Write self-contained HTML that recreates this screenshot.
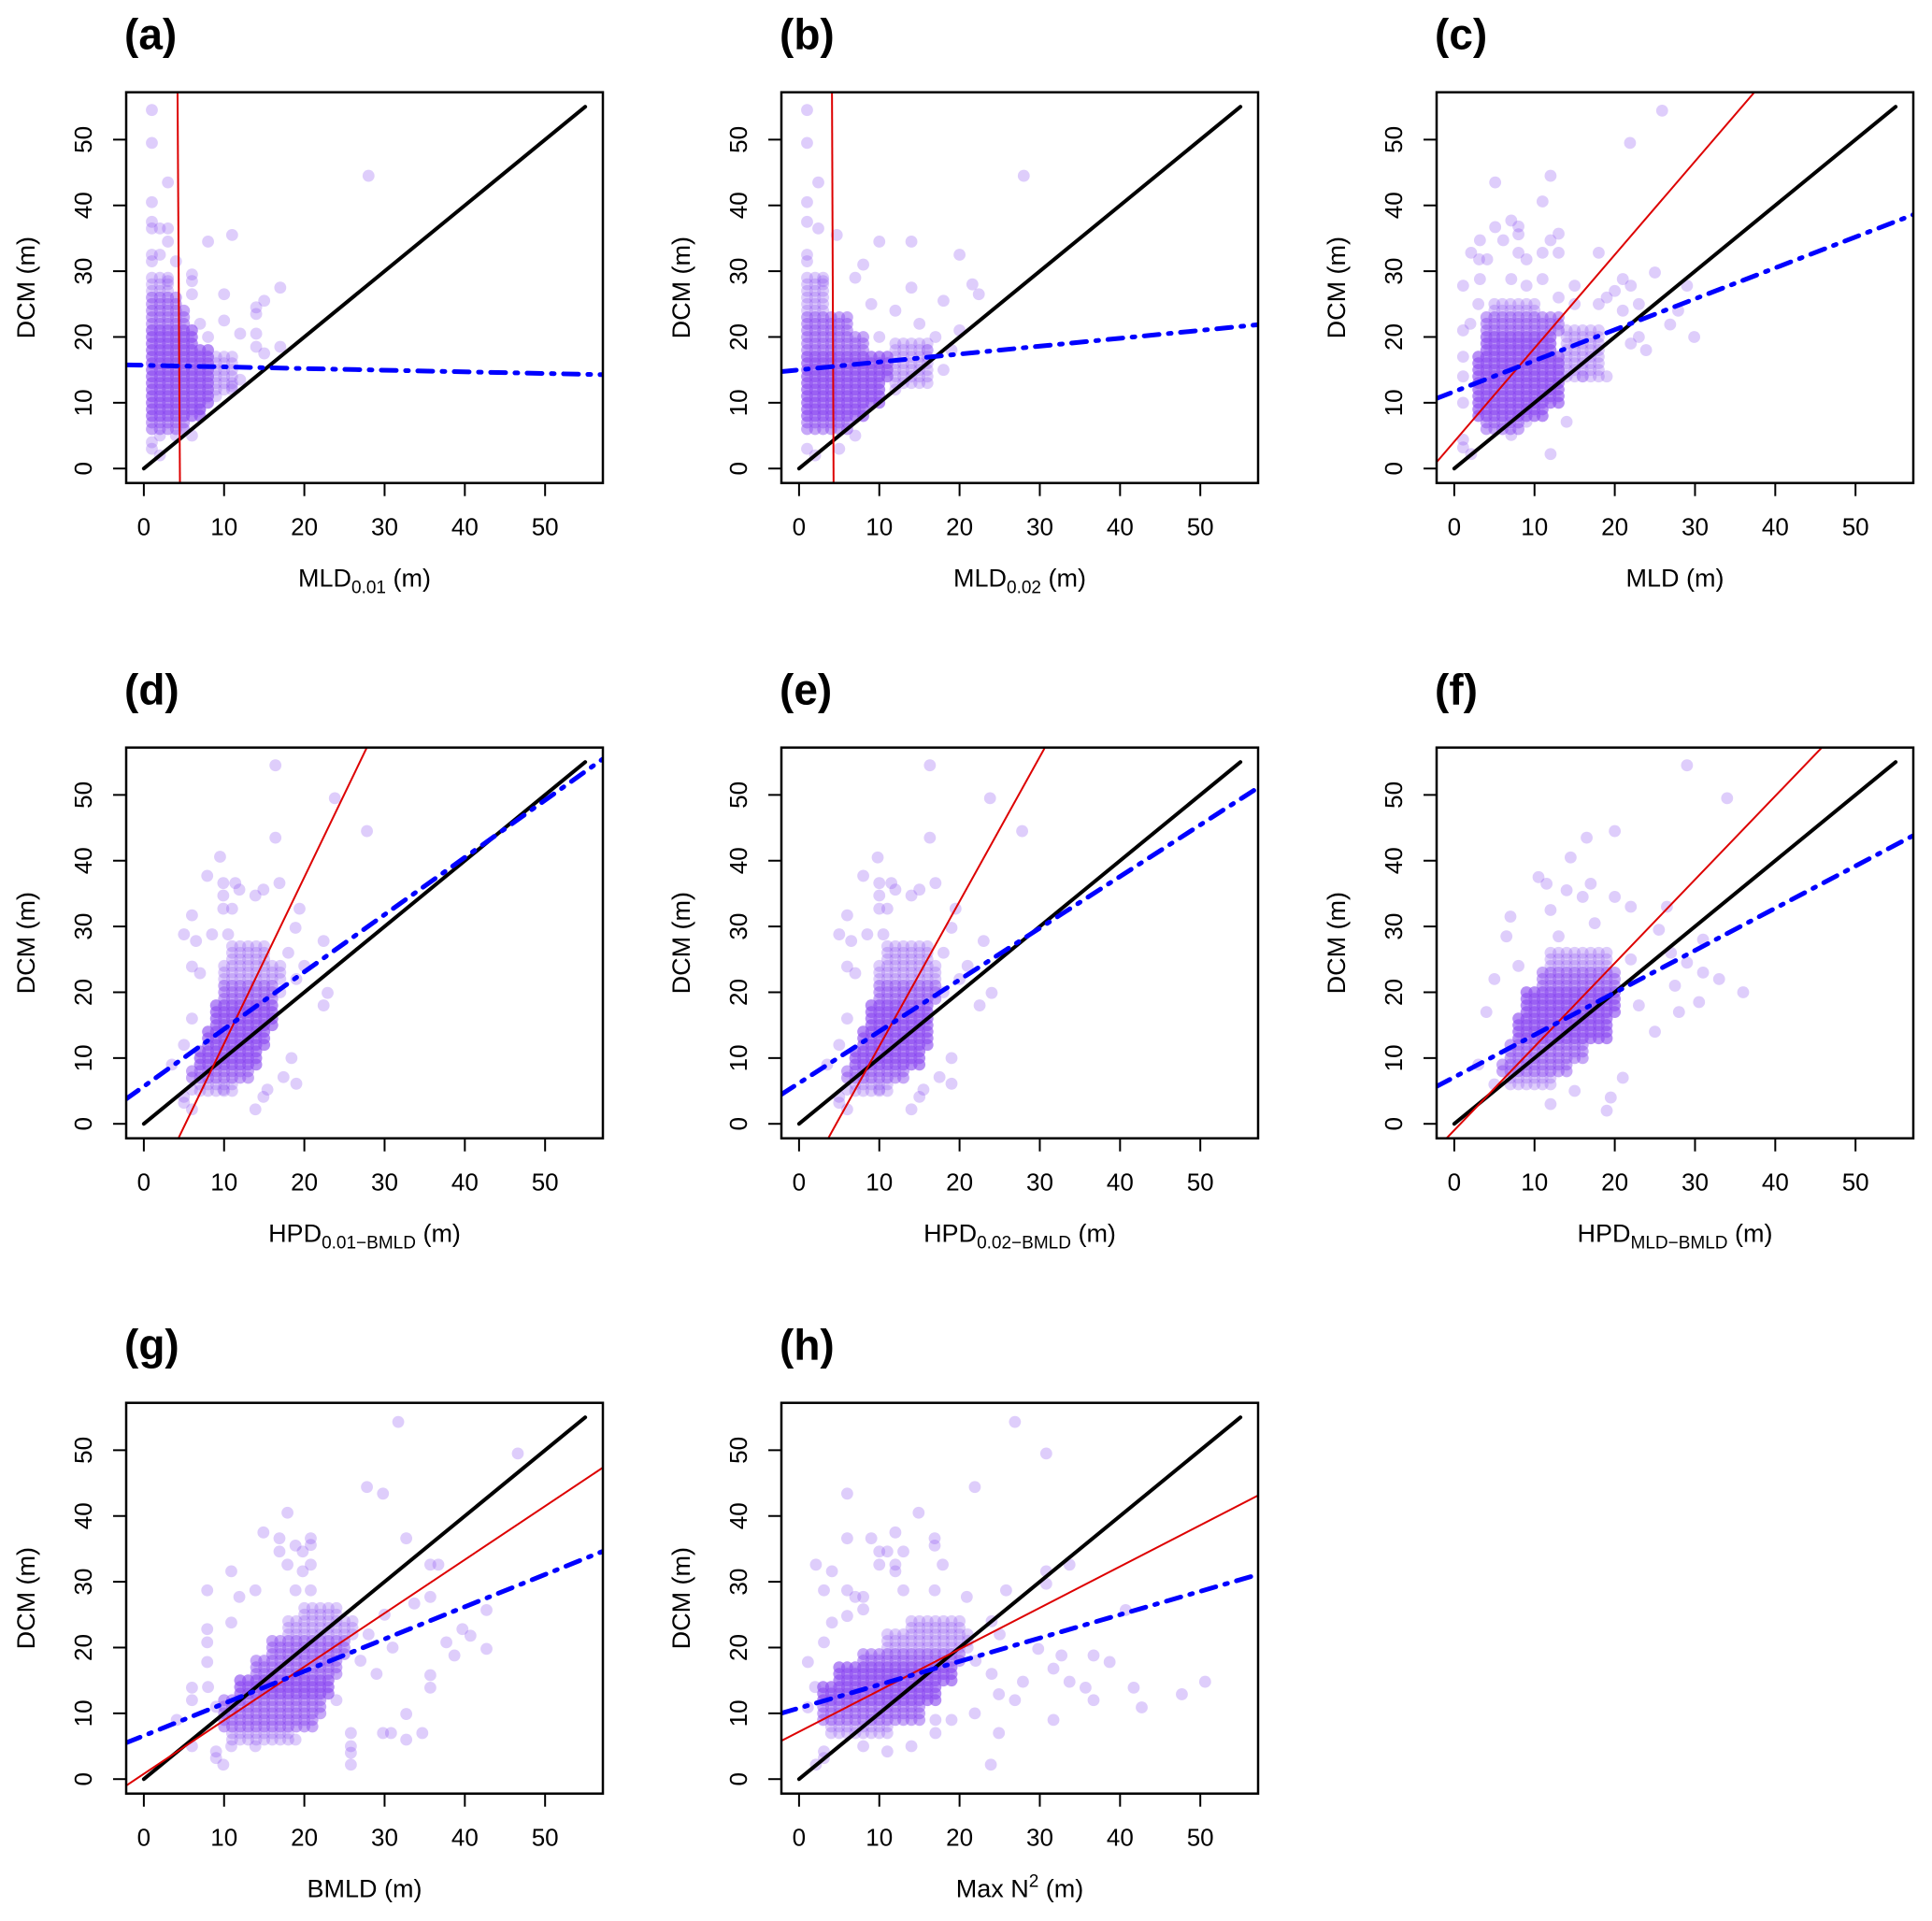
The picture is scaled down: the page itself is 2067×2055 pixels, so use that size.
<!DOCTYPE html>
<html><head><meta charset="utf-8"><style>
html,body{margin:0;padding:0;background:#fff;overflow:hidden;width:2067px;height:2055px;}
svg{display:block;}
text{font-family:"Liberation Sans",Arial,sans-serif;fill:#000;}
</style></head><body>
<svg id="fig" width="2067" height="2055" viewBox="0 0 2067 2055" xmlns="http://www.w3.org/2000/svg"></svg>
<script>
// ---- data ----
const panelIds = ['a','b','c','d','e','f','g','h'];
const xTicks = [0,10,20,30,40,50];
const yTicks = [0,10,20,30,40,50];
// fitted lines: [intercept, slope]
const blueFit = [[15.7,-0.025],[15.0,0.12],[11.7,0.47],[5.7,0.87],[6.2,0.785],[7.1,0.642],[6.6,0.49],[10.8,0.355]];
const redFit = [[888.8,-198],[1280,-298],[4.1,1.42],[-13.1,2.53],[-10.2,2.2],[-0.97,1.27],[0.8,0.814],[7.2,0.628]];
// dense cores: [yStart, yEnd, xStart, xEnd, count]
const coresA = [[6,7,1,5,2],[8,9,1,7,3],[10,13,1,8,3],[14,18,1,8,3],[19,21,1,6,3],[22,24,1,5,2],[25,26,1,4,2],[27,29,1,3,1],[12,17,9,11,1]];
const coresB = [[6,7,1,6,2],[8,9,1,8,3],[10,13,1,10,3],[14,17,1,11,3],[18,20,1,8,2],[21,23,1,6,2],[24,29,1,3,1],[13,19,12,16,1]];
const coresC = [[6,7,4,8,2],[8,9,3,11,3],[10,17,3,13,3],[18,20,4,12,3],[21,23,4,13,2],[24,25,5,10,1],[14,21,14,18,1]];
const coresD = [[5,6,7,11,1],[7,8,6,13,2],[9,11,7,14,3],[12,14,8,15,3],[15,18,9,16,3],[19,21,10,16,2],[22,24,10,17,1],[25,27,11,15,1]];
const coresE = [[5,6,7,11,1],[7,8,6,13,2],[9,11,7,15,3],[12,14,8,16,3],[15,18,9,16,3],[19,21,10,17,2],[22,24,10,17,1],[25,27,11,16,1]];
const coresF = [[6,7,7,12,1],[8,9,6,14,2],[10,12,7,16,2],[13,16,8,19,3],[17,20,9,20,3],[21,23,11,20,2],[24,26,12,19,1]];
const coresG = [[6,7,11,18,1],[8,9,10,21,2],[10,12,10,22,2],[13,15,12,23,3],[16,18,14,24,2],[19,21,16,25,2],[22,24,18,26,1],[25,26,20,24,1]];
const coresH = [[7,8,4,11,1],[9,11,3,15,2],[12,14,3,17,3],[15,17,5,19,3],[18,19,8,20,2],[20,22,11,21,1],[23,24,14,20,1]];
// scattered points: [x, y]
const ptsA = [[1,54.5],[1,49.5],[3,43.5],[1,40.5],[1,37.5],[1,36.5],[2,36.5],[3,36.5],[3,34.5],[11,35.5],[8,34.5],[28,44.5],[1,32.5],[2,32.5],[1,31.5],[4,31.5],[6,29.5],[6,28.5],[3,28.5],[10,26.5],[6,26.5],[17,27.5],[15,25.5],[14,24.5],[14,23.5],[10,22.5],[12,20.5],[14,20.5],[14,18.5],[17,18.5],[15,17.5],[12,13.5],[11,12.5],[9,11],[7,9],[6,5],[1,4],[1,3],[2,2],[2,5],[4,5],[8,20],[7,22]];
const ptsB = [[1,54.5],[1,49.5],[2.4,43.5],[1,40.5],[1,37.5],[2.4,36.5],[4.7,35.5],[14,34.5],[10,34.5],[28,44.5],[20,32.5],[21.6,28],[22.4,26.5],[18,25.5],[14,27.5],[8,31],[7,29],[10,20],[15,22],[7,5],[5,3],[1,3],[2,2],[18,15],[12,12],[17,20],[20,21],[1,32.5],[1,31.5],[3,28.5],[12,24],[16,18],[19,18],[9,25]];
const ptsC = [[25.9,54.4],[21.9,49.5],[5.1,43.5],[12,44.5],[11,40.6],[7.1,37.7],[8,36.8],[8,35.6],[5.1,36.7],[3.2,34.7],[6.1,34.7],[12,34.7],[13,35.7],[2.1,32.8],[3.1,31.8],[4.1,31.8],[8,32.8],[9,31.8],[11,32.8],[13,32.8],[18,32.8],[1.1,27.8],[3.2,28.8],[7.1,28.8],[9,27.8],[11,28.8],[15,27.8],[21,28.8],[25,29.8],[22,27.8],[29,27.8],[29.9,20],[26.9,21.9],[27.9,24],[23.9,18],[23,20],[22,19],[19,14],[16,14],[14,7.1],[12,2.2],[9,7.1],[7.1,5.1],[2.1,2.2],[1.1,3.2],[1.1,4.4],[1.1,10],[1.1,14],[1.1,17],[1.1,21],[19,26],[20,27],[18,25],[21,24],[23,25],[15,25],[13,26],[3,25],[2,22]];
const ptsD = [[16.4,54.5],[23.8,49.5],[27.8,44.5],[16.4,43.5],[9.5,40.6],[7.9,37.7],[9.9,36.6],[11.4,36.6],[11.9,35.6],[14.9,35.6],[16.9,36.6],[9.9,34.7],[13.9,34.7],[9.9,32.7],[11,32.7],[19.4,32.7],[6,31.7],[18.9,29.8],[5,28.8],[8.5,28.8],[10.5,28.8],[6.5,27.8],[22.4,27.8],[6,23.9],[7,22.9],[22.9,19.9],[22.4,18],[18.4,10],[19,6.1],[17.4,7.1],[15.4,5.2],[14.9,4.1],[13.9,2.2],[9.9,5.2],[6,2.2],[5,3.2],[5,4.1],[3.5,9],[6,5.2],[20,24],[19,22],[18,26],[17,20],[5,12],[6,16]];
const ptsE = [[16.3,54.5],[23.8,49.5],[27.8,44.5],[16.3,43.5],[9.8,40.5],[8,37.7],[10,36.6],[11.5,36.6],[12,35.6],[15,35.6],[17,36.6],[10,34.7],[14,34.7],[10,32.7],[11,32.7],[19.5,32.7],[6,31.7],[19,29.8],[5,28.8],[8.5,28.8],[10.5,28.8],[6.5,27.8],[23,27.8],[6,23.9],[7,22.9],[24,19.9],[22.5,18],[19,10],[19,6.1],[17.5,7.1],[15.5,5.2],[15,4.1],[14,2.2],[10,5.2],[6,2.2],[5,3.2],[5,4.1],[3.5,9],[6,5.2],[21,24],[20,22],[18,26],[18,20],[5,12],[6,16]];
const ptsF = [[29,54.5],[34,49.5],[20,44.5],[16.5,43.5],[14.5,40.5],[10.5,37.5],[11.5,36.5],[17,36.5],[14,35.5],[16,34.5],[20,34.5],[22,33],[26.5,33],[12,32.5],[7,31.5],[17.5,30.5],[25.5,29.5],[6.5,28.5],[13,28.5],[31,28],[27,26],[29,24.5],[31,23],[36,20],[27.5,21],[30.5,18.5],[25,14],[21,7],[19.5,4],[19,2],[15,5],[12,3],[5,6],[3,9],[4,17],[5,22],[28,17],[33,22],[22,25],[23,18],[8,24]];
const ptsG = [[31.7,54.3],[46.6,49.5],[27.8,44.4],[29.8,43.4],[17.9,40.5],[14.9,37.5],[16.9,36.6],[20.8,36.6],[20.8,35.6],[18.9,35.5],[19.8,34.6],[16.9,34.6],[17.9,32.6],[20.8,32.6],[19.8,31.6],[10.9,31.6],[32.7,36.6],[35.7,32.6],[36.7,32.6],[7.9,28.7],[13.9,28.7],[18.9,28.7],[20.8,28.7],[11.9,27.7],[33.7,26.7],[35.7,27.7],[42.7,25.7],[39.7,22.8],[40.7,21.8],[42.7,19.8],[38.7,18.8],[37.7,20.8],[35.7,15.8],[35.7,13.9],[34.7,7],[32.7,6],[32.7,9.9],[30.8,7],[29.8,7],[25.8,7],[25.8,5],[25.8,4],[25.8,2.2],[18.9,6],[13.9,5],[10.9,5],[9.9,2.2],[9,3.2],[9,4.2],[6,5],[4.1,9],[7.9,22.8],[7.9,20.8],[10.9,23.8],[7.9,17.8],[6,13.9],[6,12],[30,25],[31,20],[29,16],[28,22],[27,18],[24,12],[8,14],[9,11]];
const ptsH = [[26.9,54.3],[30.8,49.5],[21.9,44.4],[6,43.4],[14.9,40.5],[12,37.5],[6,36.6],[9,36.6],[16.9,36.6],[16.9,35.5],[10,34.6],[11,34.6],[13,34.6],[2.1,32.6],[4.1,31.6],[10,32.6],[12,32.6],[17.9,32.6],[12,31.6],[3.1,28.7],[6,28.7],[13,28.7],[16.9,28.7],[7,27.7],[8,27.7],[20.9,27.7],[25.8,28.7],[30.8,31.6],[33.7,32.6],[30.8,29.7],[36.7,18.8],[38.7,17.8],[40.7,25.7],[41.7,13.9],[42.7,10.9],[47.7,12.9],[50.6,14.8],[35.7,13.9],[36.7,12],[31.7,9],[33.7,14.8],[31.7,16.8],[32.7,18.8],[29.8,19.8],[23.9,2.2],[24.9,7],[21.9,10],[19,9],[17,9],[17,7],[14,5],[11,4.2],[8,5],[2.1,2.2],[3.1,3.2],[3.1,4.2],[1.1,17.8],[1.1,10.9],[3.1,20.8],[4.1,23.8],[6,24.8],[8,25.8],[26.9,12],[24.9,12.9],[27.9,14.8],[25,22],[24,24],[22,18],[24,16],[2,14]];
const coresAll = [coresA,coresB,coresC,coresD,coresE,coresF,coresG,coresH];
const ptsAll = [ptsA,ptsB,ptsC,ptsD,ptsE,ptsF,ptsG,ptsH];
const xLabels = [['MLD','0.01',''],['MLD','0.02',''],['MLD','',''],['HPD','0.01\u2212BMLD',''],['HPD','0.02\u2212BMLD',''],['HPD','MLD\u2212BMLD',''],['BMLD','',''],['Max N','','2']];

// ---- layout ----
const NS='http://www.w3.org/2000/svg';
const svg=document.getElementById('fig');
const BOXW=510, BOXH=418, DMIN=-2.2, DMAX=57.2;
function mk(tag,attrs,parent){const e=document.createElementNS(NS,tag);for(const k in attrs)e.setAttribute(k,attrs[k]);(parent||svg).appendChild(e);return e;}

panelIds.forEach((id,i)=>{
  const col=i%3,row=Math.floor(i/3);
  const L=135+col*701, T=98.7+row*701;
  const sx=v=>L+(v-DMIN)/(DMAX-DMIN)*BOXW;
  const sy=v=>T+BOXH-(v-DMIN)/(DMAX-DMIN)*BOXH;
  const g=mk('g',{});
  
  
  const cp=mk('clipPath',{id:'clip'+id},g);
  mk('rect',{x:L,y:T,width:BOXW,height:BOXH},cp);
  const lab=mk('text',{x:L-2,y:T-46,'font-size':46,'font-weight':'bold'},g);
  lab.textContent='('+id+')';
  
  
  const pg=mk('g',{'clip-path':'url(#clip'+id+')'},g);
  
  
  coresAll[i].forEach(c=>{
    for(let y=c[0];y<=c[1];y++)for(let x=c[2];x<=c[3];x++){
      const op=1-Math.pow(0.72,c[4]);
      const p=mk('circle',{cx:sx(x),cy:sy(y),r:6.4,fill:'#8a4af0','fill-opacity':op.toFixed(3)},pg);
      
      
    }
  });
  ptsAll[i].forEach(q=>{
    const p=mk('circle',{cx:sx(q[0]),cy:sy(q[1]),r:6.4,fill:'#8a4af0','fill-opacity':0.28},pg);
    
    
  });
  const one=mk('line',{x1:sx(0),y1:sy(0),x2:sx(55),y2:sy(55),stroke:'#000','stroke-width':4,'stroke-linecap':'round'},g);
  
  
  const rf=redFit[i];
  const rl=mk('line',{x1:sx(DMIN),y1:sy(rf[0]+rf[1]*DMIN),x2:sx(DMAX),y2:sy(rf[0]+rf[1]*DMAX),stroke:'#dd0000','stroke-width':2,'clip-path':'url(#clip'+id+')'},g);
  
  
  const bf=blueFit[i];
  const bl=mk('line',{x1:sx(DMIN),y1:sy(bf[0]+bf[1]*DMIN),x2:sx(DMAX),y2:sy(bf[0]+bf[1]*DMAX),stroke:'#0000ff','stroke-width':5,'stroke-dasharray':'16 10 3 10','stroke-linecap':'round','clip-path':'url(#clip'+id+')'},g);
  
  
  const box=mk('rect',{x:L,y:T,width:BOXW,height:BOXH,fill:'none',stroke:'#000','stroke-width':2.5},g);
  
  
  const xa=mk('g',{},g);
  
  
  mk('line',{x1:sx(0),y1:T+BOXH,x2:sx(50),y2:T+BOXH,stroke:'#000','stroke-width':2},xa);
  xTicks.forEach(v=>{
    mk('line',{x1:sx(v),y1:T+BOXH,x2:sx(v),y2:T+BOXH+14,stroke:'#000','stroke-width':2},xa);
    const t=mk('text',{x:sx(v),y:T+BOXH+56,'font-size':26,'text-anchor':'middle'},xa);
    t.textContent=v;
    
    
  });
  const ya=mk('g',{},g);
  
  
  yTicks.forEach(v=>{
    mk('line',{x1:L,y1:sy(v),x2:L-14,y2:sy(v),stroke:'#000','stroke-width':2},ya);
    const t=mk('text',{x:L-37,y:sy(v),'font-size':26,'text-anchor':'middle',transform:'rotate(-90 '+(L-37)+' '+sy(v)+')'},ya);
    t.textContent=v;
    
    
  });
  const yt=mk('text',{x:L-98,y:T+BOXH/2,'font-size':27,'text-anchor':'middle',transform:'rotate(-90 '+(L-98)+' '+(T+BOXH/2)+')'},g);
  yt.textContent='DCM (m)';
  
  
  const xl=xLabels[i];
  const xt=mk('text',{x:L+BOXW/2,y:T+BOXH+111,'font-size':27,'text-anchor':'middle'},g);
  
  
  let s=mk('tspan',{},xt); s.textContent=xl[0];
  if(xl[1]){const sub=mk('tspan',{dy:7,'font-size':19},xt);sub.textContent=xl[1];const r=mk('tspan',{dy:-7},xt);r.textContent=' (m)';}
  else if(xl[2]){const sup=mk('tspan',{dy:-11,'font-size':19},xt);sup.textContent=xl[2];const r=mk('tspan',{dy:11},xt);r.textContent=' (m)';}
  else {const r=mk('tspan',{},xt);r.textContent=' (m)';}
});
</script>
</body></html>
